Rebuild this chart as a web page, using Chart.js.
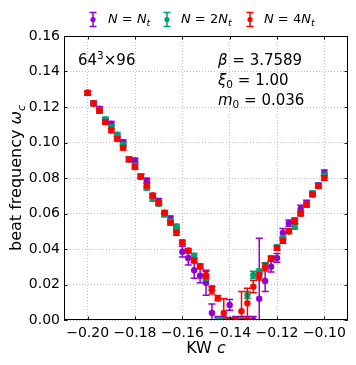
<!DOCTYPE html>
<html><head><meta charset="utf-8">
<script src="https://cdn.jsdelivr.net/npm/chart.js@4"></script>
<style>html,body{margin:0;padding:0;background:#fff}canvas{display:block}</style>
</head><body>
<canvas id="c" width="356" height="365"></canvas>
<script>
// ---- data ----
const kwC = [-0.2000,-0.1975,-0.1950,-0.1925,-0.1900,-0.1875,-0.1850,-0.1825,-0.1800,-0.1775,
  -0.1750,-0.1725,-0.1700,-0.1675,-0.1650,-0.1625,-0.1600,-0.1575,-0.1550,-0.1525,
  -0.1500,-0.1475,-0.1450,-0.1425,-0.1400,-0.1375,-0.1350,-0.1325,-0.1300,-0.1275,
  -0.1250,-0.1225,-0.1200,-0.1175,-0.1150,-0.1125,-0.1100,-0.1075,-0.1050,-0.1025,-0.1000];

const omegaN1 = [0.128,0.122,0.119,0.112,0.1106,0.103,0.1002,0.0905,0.0899,0.081,
  0.0786,0.0700,0.0669,0.0600,0.0571,0.0510,0.0385,0.0350,0.0280,0.0250,
  0.0210,0.0040,0.0000,0.0000,0.0085,0.0000,0.0000,0.0000,0.0000,0.0120,
  0.0220,0.0300,0.0350,0.0490,0.0546,0.0560,0.0626,0.0660,0.0710,0.0760,0.0830];
const errN1 = [0.0012,0.0012,0.0012,0.0012,0.0012,0.0012,0.0012,0.0012,0.0012,0.0012,
  0.0012,0.0012,0.0015,0.0015,0.0015,0.0015,0.0030,0.0040,0.0045,0.0040,
  0.0070,0.0050,0.0020,0.0020,0.0030,0.0020,0.0020,0.0020,0.0020,0.0340,
  0.0060,0.0030,0.0025,0.0025,0.0018,0.0015,0.0020,0.0015,0.0012,0.0012,0.0015];

const omegaN2 = [0.128,0.122,0.118,0.113,0.1087,0.1044,0.0987,0.0905,0.0870,0.0810,
  0.0744,0.0682,0.0655,0.0594,0.0555,0.0527,0.0437,0.0390,0.0362,0.0305,
  0.0236,0.0180,0.0000,0.0000,0.0000,0.0000,0.0000,0.0141,0.0254,0.0273,
  0.0310,0.0350,0.0410,0.0460,0.0500,0.0524,0.0600,0.0650,0.0715,0.0757,0.0815];
const errN2 = [0.0012,0.0012,0.0012,0.0012,0.0012,0.0012,0.0012,0.0012,0.0012,0.0012,
  0.0012,0.0012,0.0012,0.0012,0.0012,0.0012,0.0012,0.0012,0.0012,0.0012,
  0.0012,0.0012,0.0012,0.0012,0.0012,0.0012,0.0012,0.0020,0.0020,0.0015,
  0.0012,0.0012,0.0012,0.0012,0.0012,0.0012,0.0012,0.0012,0.0012,0.0012,0.0012];

const omegaN4 = [0.128,0.122,0.1178,0.1115,0.1068,0.1020,0.0970,0.0905,0.0861,0.0807,
  0.0757,0.0701,0.0660,0.0605,0.0547,0.0490,0.0437,0.0391,0.0334,0.0301,
  0.0254,0.0167,0.0123,0.0040,0.0000,0.0000,0.0050,0.0094,0.0188,0.0245,
  0.0298,0.0345,0.0405,0.0445,0.0500,0.0556,0.0600,0.0650,0.0707,0.0754,0.0800];
const errN4 = [0.0012,0.0012,0.0012,0.0012,0.0012,0.0012,0.0012,0.0012,0.0012,0.0012,
  0.0012,0.0012,0.0012,0.0012,0.0012,0.0012,0.0012,0.0012,0.0012,0.0012,
  0.0020,0.0020,0.0015,0.0080,0.0012,0.0012,0.0110,0.0085,0.0035,0.0020,
  0.0020,0.0012,0.0012,0.0012,0.0012,0.0012,0.0012,0.0012,0.0012,0.0012,0.0012];

const xTicks = [-0.20,-0.18,-0.16,-0.14,-0.12,-0.10];
const yTicks = [0.00,0.02,0.04,0.06,0.08,0.10,0.12,0.14,0.16];
const seriesColors = ['#9400d3','#009e73','#ff0000'];

// ---- helpers ----
const FONT = 'DejaVu Sans';
function fmt(v){ const s = Math.abs(v).toFixed(2); return (v < -1e-9 ? '\u2212' : '') + s; }
function runs(ctx, x, y, parts, align){
  let w = 0;
  parts.forEach(p=>{ ctx.font = (p.italic?'italic ':'') + p.size + 'px "' + FONT + '"'; p.w = ctx.measureText(p.t).width; w += p.w; });
  let cx = align === 'center' ? x - w/2 : x;
  parts.forEach(p=>{ ctx.font = (p.italic?'italic ':'') + p.size + 'px "' + FONT + '"'; ctx.fillText(p.t, cx, y + (p.dy||0)); cx += p.w; });
}
function errBar(ctx, x, y1, y2, cap){
  ctx.beginPath();
  ctx.moveTo(x, y1); ctx.lineTo(x, y2);
  ctx.moveTo(x-cap, y1); ctx.lineTo(x+cap, y1);
  ctx.moveTo(x-cap, y2); ctx.lineTo(x+cap, y2);
  ctx.stroke();
}

const errSets = [errN1, errN2, errN4];
const errPlugin = {
  id: 'errbars',
  beforeDatasetDraw(chart, args){
    const ds = chart.data.datasets[args.index];
    const err = errSets[args.index];
    const xs = chart.scales.x, ys = chart.scales.y, ctx = chart.ctx, a = chart.chartArea;
    ctx.save();
    ctx.beginPath(); ctx.rect(a.left, a.top, a.right-a.left, a.bottom-a.top); ctx.clip();
    ctx.strokeStyle = ds.borderColor; ctx.lineWidth = 1.5;
    ds.data.forEach((p,i)=>{
      const x = xs.getPixelForValue(p.x);
      errBar(ctx, x, ys.getPixelForValue(p.y + err[i]), ys.getPixelForValue(p.y - err[i]), 3.5);
    });
    ctx.restore();
  }
};

const decoPlugin = {
  id: 'deco',
  afterDraw(chart){
    const ctx = chart.ctx, a = chart.chartArea, xs = chart.scales.x, ys = chart.scales.y;
    ctx.save();
    ctx.strokeStyle = '#000'; ctx.lineWidth = 1;
    ctx.strokeRect(Math.round(a.left)+0.5, Math.round(a.top)+0.5, Math.round(a.right-a.left)-1, Math.round(a.bottom-a.top)-1);
    ctx.lineWidth = 0.9; ctx.beginPath();
    const tl = 3.5;
    xTicks.forEach(v=>{ const x = Math.round(xs.getPixelForValue(v))+0.5;
      ctx.moveTo(x, a.bottom); ctx.lineTo(x, a.bottom-tl); ctx.moveTo(x, a.top); ctx.lineTo(x, a.top+tl); });
    yTicks.forEach(v=>{ const y = Math.round(ys.getPixelForValue(v))+0.5;
      ctx.moveTo(a.left, y); ctx.lineTo(a.left+tl, y); ctx.moveTo(a.right, y); ctx.lineTo(a.right-tl, y); });
    ctx.stroke();

    ctx.fillStyle = '#000'; ctx.textBaseline = 'alphabetic';
    const legend = [
      {x: 93, tx: 108, parts: [{t:'N',size:13,italic:true},{t:' = ',size:13},{t:'N',size:13,italic:true},{t:'t',size:9.5,italic:true,dy:3}]},
      {x: 167, tx: 181, parts: [{t:'N',size:13,italic:true},{t:' = 2',size:13},{t:'N',size:13,italic:true},{t:'t',size:9.5,italic:true,dy:3}]},
      {x: 250, tx: 264, parts: [{t:'N',size:13,italic:true},{t:' = 4',size:13},{t:'N',size:13,italic:true},{t:'t',size:9.5,italic:true,dy:3}]}
    ];
    legend.forEach((l,i)=>{
      ctx.strokeStyle = seriesColors[i]; ctx.fillStyle = seriesColors[i]; ctx.lineWidth = 1.5;
      errBar(ctx, l.x, 12.5, 26.5, 3.5);
      ctx.beginPath(); ctx.arc(l.x, 19.5, 2.6, 0, Math.PI*2); ctx.fill();
      ctx.fillStyle = '#000';
      runs(ctx, l.tx, 23, l.parts);
    });
    runs(ctx, 78, 64.5, [{t:'64',size:15},{t:'3',size:10.5,dy:-6},{t:'\u00d796',size:15}]);
    runs(ctx, 218, 64.5, [{t:'\u03b2',size:15,italic:true},{t:' = 3.7589',size:15}]);
    runs(ctx, 218, 85, [{t:'\u03be',size:15,italic:true},{t:'0',size:10.5,dy:3},{t:' = 1.00',size:15}]);
    runs(ctx, 218, 105, [{t:'m',size:15,italic:true},{t:'0',size:10.5,dy:3},{t:' = 0.036',size:15}]);
    runs(ctx, (a.left+a.right)/2, 353, [{t:'KW ',size:16},{t:'c',size:16,italic:true}], 'center');
    ctx.translate(21, (a.top+a.bottom)/2);
    ctx.rotate(-Math.PI/2);
    runs(ctx, 0, 0, [{t:'beat frequency ',size:16},{t:'\u03c9',size:16,italic:true},{t:'c',size:11,italic:true,dy:3.5}], 'center');
    ctx.restore();
  }
};

const sets = [omegaN1, omegaN2, omegaN4];
const labels = ['N = Nt','N = 2Nt','N = 4Nt'];
const datasets = sets.map((s,k)=>({
  label: labels[k],
  data: kwC.map((c,i)=>({x:c, y:s[i]})),
  backgroundColor: seriesColors[k], borderColor: seriesColors[k],
  pointRadius: 3.2, pointHoverRadius: 3.2, pointBorderWidth: 0, borderWidth: 0,
  showLine: false, clip: 0, order: 3 - k
}));

const tickFont = {family: FONT, size: 14};
new Chart(document.getElementById('c'), {
  type: 'scatter',
  data: {datasets},
  options: {
    responsive: false, animation: false, events: [],
    layout: {padding: {left: 0, right: 8, top: 36, bottom: 0}},
    plugins: {legend: {display: false}, tooltip: {enabled: false}},
    scales: {
      x: {type: 'linear', min: -0.21, max: -0.09,
          afterBuildTicks: s => { s.ticks = xTicks.map(v => ({value: v})); },
          afterFit: s => { s.height = 45; },
          ticks: {autoSkip: false, maxRotation: 0, minRotation: 0, padding: 5, color: '#000', font: tickFont, callback: v => fmt(v)},
          grid: {color: '#b0b0b0', lineWidth: 0.8, drawTicks: false},
          border: {display: false, dash: [1, 2]}},
      y: {type: 'linear', min: 0, max: 0.16,
          afterBuildTicks: s => { s.ticks = yTicks.map(v => ({value: v})); },
          afterFit: s => { s.width = 64; },
          ticks: {autoSkip: false, padding: 4, color: '#000', font: tickFont, callback: v => fmt(v)},
          grid: {color: '#b0b0b0', lineWidth: 0.8, drawTicks: false},
          border: {display: false, dash: [1, 2]}}
    }
  },
  plugins: [errPlugin, decoPlugin]
});
</script>
</body></html>
